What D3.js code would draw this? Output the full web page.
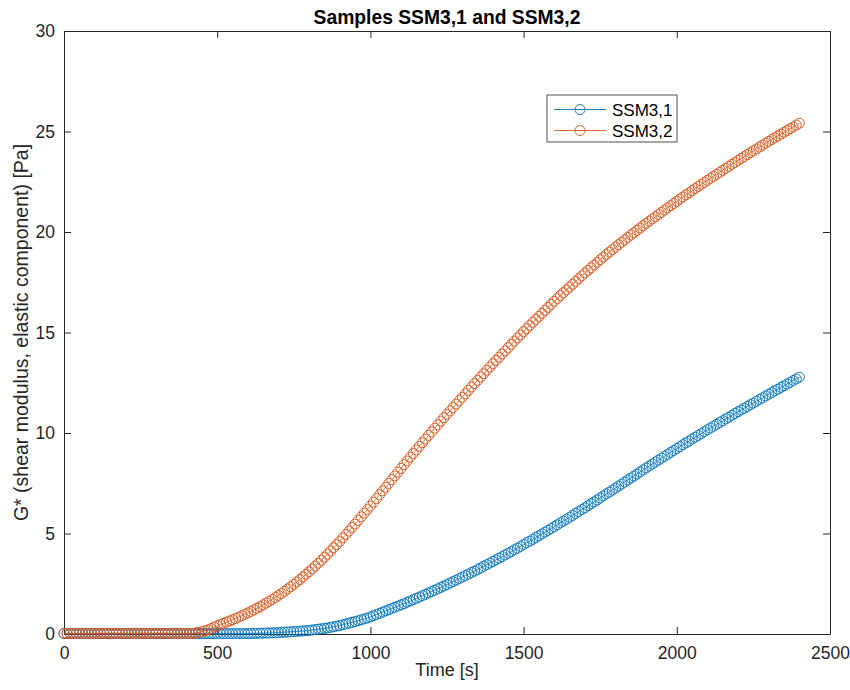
<!DOCTYPE html>
<html><head><meta charset="utf-8">
<script src="https://cdn.jsdelivr.net/npm/d3@7"></script>
<style>
body{margin:0;background:#fff}
text{font-family:"Liberation Sans",Arial,Helvetica,sans-serif}
</style>
</head><body>
<svg id="chart" width="850" height="690"></svg>
<script>
// Sampling times [s]
const timeSec = [0,10,20,30,40,50,60,70,80,90,100,110,120,130,140,150,160,170,180,190,
200,210,220,230,240,250,260,270,280,290,300,310,320,330,340,350,360,370,380,390,
400,410,420,430,440,450,460,470,480,490,500,510,520,530,540,550,560,570,580,590,
600,610,620,630,640,650,660,670,680,690,700,710,720,730,740,750,760,770,780,790,
800,810,820,830,840,850,860,870,880,890,900,910,920,930,940,950,960,970,980,990,
1000,1010,1020,1030,1040,1050,1060,1070,1080,1090,1100,1110,1120,1130,1140,1150,1160,1170,1180,1190,
1200,1210,1220,1230,1240,1250,1260,1270,1280,1290,1300,1310,1320,1330,1340,1350,1360,1370,1380,1390,
1400,1410,1420,1430,1440,1450,1460,1470,1480,1490,1500,1510,1520,1530,1540,1550,1560,1570,1580,1590,
1600,1610,1620,1630,1640,1650,1660,1670,1680,1690,1700,1710,1720,1730,1740,1750,1760,1770,1780,1790,
1800,1810,1820,1830,1840,1850,1860,1870,1880,1890,1900,1910,1920,1930,1940,1950,1960,1970,1980,1990,
2000,2010,2020,2030,2040,2050,2060,2070,2080,2090,2100,2110,2120,2130,2140,2150,2160,2170,2180,2190,
2200,2210,2220,2230,2240,2250,2260,2270,2280,2290,2300,2310,2320,2330,2340,2350,2360,2370,2380,2390,
2400];

// G* elastic component [Pa], sample SSM3,1
const ssm31 = [0.02,0.02,0.02,0.02,0.02,0.02,0.02,0.02,0.02,0.02,0.02,0.02,0.02,0.02,0.02,0.02,0.02,0.02,0.02,0.02,
0.02,0.02,0.02,0.02,0.02,0.02,0.02,0.02,0.02,0.02,0.02,0.02,0.02,0.02,0.02,0.02,0.02,0.02,0.02,0.02,
0.02,0.02,0.02,0.02,0.02,0.02,0.02,0.02,0.02,0.02,0.02,0.02,0.02,0.02,0.02,0.02,0.02,0.02,0.02,0.02,
0.02,0.02,0.03,0.03,0.04,0.04,0.05,0.05,0.06,0.06,0.07,0.08,0.09,0.10,0.11,0.12,0.13,0.14,0.15,0.17,
0.18,0.20,0.22,0.24,0.26,0.28,0.30,0.33,0.36,0.39,0.42,0.46,0.50,0.54,0.58,0.62,0.66,0.71,0.75,0.80,
0.85,0.91,0.97,1.03,1.09,1.15,1.21,1.27,1.33,1.39,1.45,1.51,1.58,1.64,1.71,1.77,1.84,1.91,1.97,2.04,
2.11,2.18,2.25,2.32,2.39,2.46,2.54,2.61,2.68,2.76,2.83,2.91,2.98,3.06,3.13,3.21,3.29,3.37,3.45,3.53,
3.61,3.69,3.77,3.85,3.94,4.02,4.10,4.19,4.27,4.36,4.45,4.54,4.62,4.71,4.80,4.89,4.98,5.07,5.16,5.25,
5.34,5.43,5.53,5.62,5.71,5.81,5.90,6.00,6.09,6.19,6.28,6.38,6.48,6.57,6.67,6.77,6.87,6.97,7.06,7.16,
7.26,7.36,7.46,7.56,7.66,7.76,7.86,7.96,8.06,8.16,8.26,8.36,8.46,8.55,8.65,8.75,8.84,8.94,9.04,9.13,
9.23,9.32,9.42,9.51,9.60,9.70,9.79,9.88,9.97,10.07,10.16,10.25,10.34,10.43,10.52,10.61,10.70,10.79,10.88,10.97,
11.06,11.15,11.23,11.32,11.41,11.49,11.58,11.67,11.75,11.84,11.93,12.01,12.10,12.18,12.27,12.35,12.44,12.52,12.61,12.69,
12.78];

// G* elastic component [Pa], sample SSM3,2
const ssm32 = [0.03,0.03,0.03,0.03,0.03,0.03,0.03,0.03,0.03,0.03,0.03,0.03,0.03,0.03,0.03,0.03,0.03,0.03,0.03,0.03,
0.03,0.03,0.03,0.03,0.03,0.03,0.03,0.03,0.03,0.03,0.03,0.03,0.03,0.03,0.03,0.03,0.03,0.03,0.03,0.03,
0.03,0.03,0.03,0.05,0.08,0.12,0.16,0.21,0.27,0.34,0.41,0.47,0.53,0.59,0.65,0.71,0.77,0.84,0.91,0.98,
1.05,1.12,1.20,1.28,1.36,1.45,1.54,1.63,1.72,1.82,1.92,2.02,2.13,2.24,2.35,2.47,2.59,2.71,2.84,2.97,
3.10,3.24,3.38,3.52,3.67,3.82,3.97,4.13,4.29,4.45,4.61,4.78,4.95,5.12,5.30,5.47,5.65,5.83,6.01,6.19,
6.37,6.56,6.74,6.93,7.12,7.30,7.49,7.68,7.87,8.05,8.24,8.43,8.61,8.80,8.98,9.16,9.34,9.52,9.70,9.88,
10.06,10.24,10.41,10.59,10.76,10.93,11.10,11.27,11.44,11.61,11.78,11.95,12.12,12.29,12.46,12.62,12.79,12.95,13.12,13.28,
13.45,13.61,13.77,13.93,14.09,14.25,14.41,14.57,14.73,14.88,15.04,15.19,15.35,15.50,15.65,15.80,15.95,16.10,16.25,16.40,
16.55,16.69,16.84,16.98,17.12,17.26,17.40,17.54,17.68,17.82,17.96,18.09,18.22,18.36,18.49,18.62,18.75,18.88,19.00,19.13,
19.25,19.37,19.49,19.61,19.73,19.85,19.96,20.08,20.20,20.31,20.43,20.54,20.65,20.76,20.87,20.98,21.09,21.20,21.31,21.42,
21.53,21.64,21.74,21.85,21.95,22.06,22.16,22.27,22.37,22.47,22.57,22.67,22.77,22.87,22.97,23.07,23.17,23.27,23.37,23.46,
23.56,23.66,23.75,23.85,23.94,24.04,24.13,24.23,24.32,24.42,24.51,24.60,24.69,24.78,24.87,24.96,25.05,25.14,25.23,25.32,
25.41];

const seriesNames = ["SSM3,1", "SSM3,2"];
const seriesValues = [ssm31, ssm32];
const seriesColors = ["#0072BD", "#D95319"];
const xTicks = [0, 500, 1000, 1500, 2000, 2500];
const yTicks = [0, 5, 10, 15, 20, 25, 30];

const svg = d3.select("#chart");
const axisColor = "#262626";
const plot = {left: 64, right: 830, top: 31, bottom: 634};

const x = d3.scaleLinear().domain([0, 2500]).range([plot.left, plot.right]);
const y = d3.scaleLinear().domain([0, 30]).range([plot.bottom, plot.top]);
const fmt = d3.format("d");

// Axes with inward ticks on all four sides (boxed)
function styleAxis(g) {
  g.select(".domain").attr("stroke", axisColor).attr("stroke-width", 1);
  g.selectAll(".tick line").attr("stroke", axisColor).attr("stroke-width", 1);
  g.selectAll(".tick text").attr("fill", "#262626").style("font-size", "17.5px");
}
svg.append("g").attr("transform", `translate(0,${plot.bottom})`)
  .call(d3.axisBottom(x).tickValues(xTicks).tickFormat(fmt).tickSizeInner(-7).tickSizeOuter(0).tickPadding(12.5))
  .call(styleAxis);
svg.append("g").attr("transform", `translate(0,${plot.top})`)
  .call(d3.axisTop(x).tickValues(xTicks).tickSizeInner(-7).tickSizeOuter(0).tickFormat(""))
  .call(styleAxis);
svg.append("g").attr("transform", `translate(${plot.left},0)`)
  .call(d3.axisLeft(y).tickValues(yTicks).tickFormat(fmt).tickSizeInner(-7).tickSizeOuter(0).tickPadding(9))
  .call(styleAxis);
svg.append("g").attr("transform", `translate(${plot.right},0)`)
  .call(d3.axisRight(y).tickValues(yTicks).tickSizeInner(-7).tickSizeOuter(0).tickFormat(""))
  .call(styleAxis);

// Data series: thin connecting line with open circle markers
const line = d3.line().x((d, i) => x(timeSec[i])).y(d => y(d));
seriesValues.forEach((vals, k) => {
  const g = svg.append("g");
  g.append("path").datum(vals).attr("d", line)
    .attr("fill", "none").attr("stroke", seriesColors[k]).attr("stroke-width", 0.8);
  g.selectAll("circle").data(vals).join("circle")
    .attr("cx", (d, i) => x(timeSec[i])).attr("cy", d => y(d)).attr("r", 5)
    .attr("fill", "none").attr("stroke", seriesColors[k]).attr("stroke-width", 0.9);
});

// Title and axis labels
svg.append("text").attr("x", 447).attr("y", 24).attr("text-anchor", "middle")
  .style("font-size", "19.3px").style("font-weight", "bold").attr("fill", "#000")
  .text("Samples SSM3,1 and SSM3,2");
svg.append("text").attr("x", 447).attr("y", 676).attr("text-anchor", "middle")
  .style("font-size", "18px").attr("fill", "#262626").text("Time [s]");
svg.append("text").attr("transform", `translate(28,${(plot.top + plot.bottom) / 2}) rotate(-90)`)
  .attr("text-anchor", "middle").style("font-size", "19.5px").attr("fill", "#262626")
  .text("G* (shear modulus, elastic component) [Pa]");

// Legend
const lg = svg.append("g");
lg.append("rect").attr("x", 547).attr("y", 95).attr("width", 130).attr("height", 47)
  .attr("fill", "#fff").attr("stroke", axisColor).attr("stroke-width", 0.8);
seriesNames.forEach((name, k) => {
  const yy = 109.5 + k * 21;
  lg.append("line").attr("x1", 554).attr("x2", 606).attr("y1", yy).attr("y2", yy)
    .attr("stroke", seriesColors[k]).attr("stroke-width", 0.9);
  lg.append("circle").attr("cx", 580).attr("cy", yy).attr("r", 5)
    .attr("fill", "none").attr("stroke", seriesColors[k]).attr("stroke-width", 0.9);
  lg.append("text").attr("x", 612).attr("y", yy + 6).style("font-size", "17px")
    .attr("fill", "#000").text(name);
});
</script>
</body></html>
